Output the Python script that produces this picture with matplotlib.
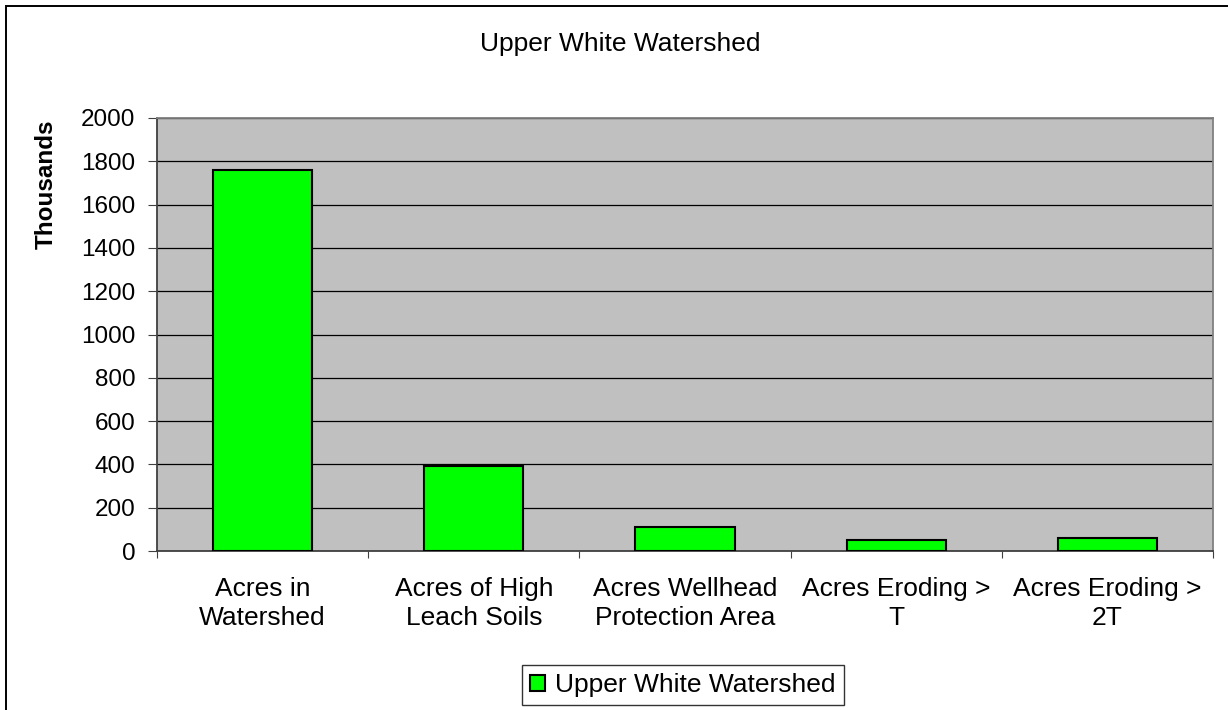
import matplotlib
matplotlib.use("Agg")
import matplotlib.pyplot as plt
from matplotlib.patches import Rectangle

plt.rcParams['font.family'] = ['Liberation Sans', 'DejaVu Sans']

# Data (thousands of acres)
categories = ["Acres in\nWatershed", "Acres of High\nLeach Soils",
              "Acres Wellhead\nProtection Area", "Acres Eroding >\nT",
              "Acres Eroding >\n2T"]
values = [1760, 394, 112, 51, 59]
series_name = "Upper White Watershed"

W, H = 1228, 710
fig = plt.figure(figsize=(W / 100, H / 100), dpi=100)
ax = fig.add_axes([157 / W, 1 - 551 / H, (1213 - 157) / W, (551 - 118) / H])

# outer chart frame (right and bottom edges are off the picture)
fig.patches.append(Rectangle((5.5 / W, -0.05), 1.1, 1.05 - 6 / H,
                             transform=fig.transFigure, fill=False,
                             edgecolor='black', linewidth=1.4))

ax.set_facecolor('#C0C0C0')
x = list(range(len(categories)))
bars = ax.bar(x, values, width=0.47, color='#00FF00', edgecolor='black',
              linewidth=1.5, label=series_name, zorder=3)

ax.set_xlim(-0.5, len(categories) - 0.5)
ax.set_ylim(0, 2000)
ax.set_yticks(range(0, 2001, 200))
ax.yaxis.grid(True, color='black', linewidth=0.9, zorder=1)
ax.set_axisbelow(True)

# category labels between boundary ticks
ax.set_xticks([i - 0.5 for i in range(len(categories) + 1)])
ax.set_xticklabels([])
ax.set_xticks(x, minor=True)
ax.set_xticklabels(categories, minor=True, fontsize=19, linespacing=1.27)
ax.tick_params(axis='x', which='minor', length=0, pad=18.5)
ax.tick_params(axis='x', which='major', length=5, color='#404040', direction='out')
ax.tick_params(axis='y', length=6.5, color='#404040', labelsize=17.5, pad=9)

for side in ['top', 'right']:
    ax.spines[side].set_color('#808080')
for side in ['left', 'bottom']:
    ax.spines[side].set_color('#404040')
for s in ax.spines.values():
    s.set_linewidth(1.3)

fig.text(46 / W, 1 - 184 / H, "Thousands", rotation=90, ha='center',
         va='center', fontsize=17.5, fontweight='bold')
fig.text(620 / W, 1 - 44 / H, "Upper White Watershed", ha='center',
         va='center', fontsize=19)

leg = fig.legend(handles=[bars], labels=[series_name], loc='center',
                 bbox_to_anchor=(683 / W, 1 - 685 / H), fontsize=19,
                 frameon=True, fancybox=False, edgecolor='black',
                 handlelength=0.55, handleheight=0.55, handletextpad=0.4,
                 borderpad=0.3, borderaxespad=0)
leg.get_frame().set_linewidth(1.0)

fig.savefig("out.png", dpi=100)
